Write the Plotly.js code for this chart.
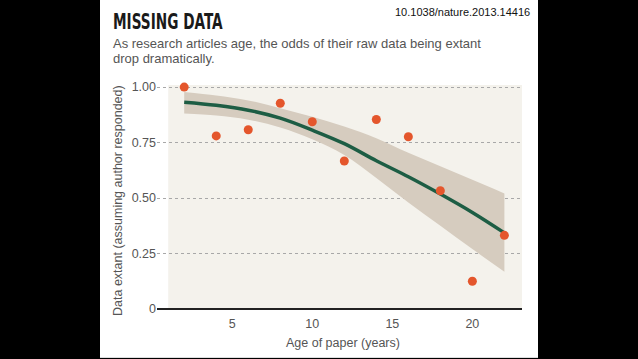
<!DOCTYPE html>
<html>
<head>
<meta charset="utf-8">
<script src="https://cdn.plot.ly/plotly-3.0.1.min.js"></script>
<style>
  html, body { margin:0; padding:0; background:#000; width:638px; height:359px; overflow:hidden; }
  #panel { position:absolute; left:100px; top:0; width:438px; height:357px; background:#fff; border-bottom:1px solid #ddd; }
  #chart { position:absolute; left:0; top:0; width:638px; height:359px; }
</style>
</head>
<body>
<div id="panel"></div>
<div id="chart"></div>
<script>
// Observed data points
const ages = [2, 4, 6, 8, 10, 12, 14, 16, 18, 20, 22];
const extant = [1.00, 0.78, 0.808, 0.927, 0.844, 0.667, 0.854, 0.776, 0.533, 0.125, 0.332];

// Fitted curve and confidence band
const fitAges = [2, 4, 6, 8, 10, 12, 14, 16, 18, 20, 22];
const fitValues = [0.932, 0.918, 0.896, 0.860, 0.806, 0.745, 0.668, 0.596, 0.518, 0.435, 0.343];
const bandUpper = [0.978, 0.962, 0.940, 0.905, 0.866, 0.822, 0.770, 0.704, 0.643, 0.582, 0.521];
const bandLower = [0.881, 0.872, 0.853, 0.818, 0.765, 0.694, 0.590, 0.480, 0.375, 0.270, 0.168];

// Tick labels
const yTickVals = [0, 0.25, 0.5, 0.75, 1.0];
const yTickText = ['0', '0.25', '0.50', '0.75', '1.00'];
const xTickVals = [5, 10, 15, 20];
const xTickText = ['5', '10', '15', '20'];

const W = 638, H = 359;
const M = { l: 157, r: 116, t: 76, b: 50 };
const pw = W - M.l - M.r, ph = H - M.t - M.b;
const px = x => (x - M.l) / pw;
const py = y => (H - M.b - y) / ph;

const traces = [
  { x: fitAges, y: bandUpper, mode: 'lines', line: { width: 0, shape: 'spline', color: 'rgba(0,0,0,0)' }, hoverinfo: 'skip', showlegend: false },
  { x: fitAges, y: bandLower, mode: 'lines', fill: 'tonexty', fillcolor: '#d6ccbf', line: { width: 0, shape: 'spline', color: 'rgba(0,0,0,0)' }, hoverinfo: 'skip', showlegend: false },
  { x: fitAges, y: fitValues, mode: 'lines', line: { width: 3.5, shape: 'spline', color: '#1d5d44' }, showlegend: false },
  { x: ages, y: extant, mode: 'markers', marker: { size: 9, color: '#e4562c' }, showlegend: false, cliponaxis: false }
];

const sans = 'Liberation Sans, Arial, sans-serif';
const layout = {
  width: W, height: H,
  margin: M,
  paper_bgcolor: 'rgba(0,0,0,0)',
  plot_bgcolor: 'rgba(0,0,0,0)',
  showlegend: false,
  xaxis: {
    range: [0.3, 23.1],
    tickvals: xTickVals, ticktext: xTickText,
    showgrid: false, zeroline: false, showline: false, ticks: '',
    ticklabelstandoff: 5,
    tickfont: { family: sans, size: 12.5, color: '#555' }
  },
  yaxis: {
    range: [0, 1.05],
    tickvals: yTickVals, ticktext: yTickText,
    showgrid: true, gridcolor: '#a8a8a8', griddash: 'dot', gridwidth: 1,
    zeroline: true, zerolinecolor: '#222', zerolinewidth: 2,
    showline: false, ticks: '',
    tickfont: { family: sans, size: 12.5, color: '#555' }
  },
  shapes: [
    { type: 'rect', xref: 'x', yref: 'y', x0: 1, x1: 23.1, y0: 0, y1: 1.01, fillcolor: '#f4f2ec', line: { width: 0 }, layer: 'below' }
  ],
  annotations: [
    { xref: 'paper', yref: 'paper', x: px(111), y: py(22.5), xanchor: 'left', yanchor: 'middle', showarrow: false,
      text: '<b>MISSING DATA</b>', font: { family: 'Liberation Sans Narrow, DejaVu Sans Condensed, Arial Narrow, Liberation Sans, sans-serif', size: 21, color: '#1a1a1a' } },
    { xref: 'paper', yref: 'paper', x: px(111), y: py(43), xanchor: 'left', yanchor: 'middle', showarrow: false,
      text: 'As research articles age, the odds of their raw data being extant', font: { family: sans, size: 13, color: '#555' } },
    { xref: 'paper', yref: 'paper', x: px(111), y: py(58), xanchor: 'left', yanchor: 'middle', showarrow: false,
      text: 'drop dramatically.', font: { family: sans, size: 13, color: '#555' } },
    { xref: 'paper', yref: 'paper', x: px(532), y: py(11.5), xanchor: 'right', yanchor: 'middle', showarrow: false,
      text: '10.1038/nature.2013.14416', font: { family: sans, size: 11, color: '#111' } },
    { xref: 'paper', yref: 'paper', x: px(343), y: py(343), xanchor: 'center', yanchor: 'middle', showarrow: false,
      text: 'Age of paper (years)', font: { family: sans, size: 12.5, color: '#555' } },
    { xref: 'paper', yref: 'paper', x: px(118), y: py(201), xanchor: 'center', yanchor: 'middle', showarrow: false, textangle: -90,
      text: 'Data extant (assuming author responded)', font: { family: sans, size: 12.5, color: '#555' } }
  ]
};

Plotly.newPlot('chart', traces, layout, { displayModeBar: false, staticPlot: true }).then(gd => {
  // condense the headline horizontally to mimic the narrow bold display face
  const t = gd.querySelector('.annotation[data-index="0"] text');
  if (t) {
    const b = t.getBBox();
    const target = 110;
    if (b.width > target + 2) {
      const sx = target / b.width;
      const prev = t.getAttribute('transform') || '';
      t.setAttribute('transform', prev + ` translate(${b.x * (1 - sx)},0) scale(${sx},1)`);
    }
  }
});
</script>
</body>
</html>
